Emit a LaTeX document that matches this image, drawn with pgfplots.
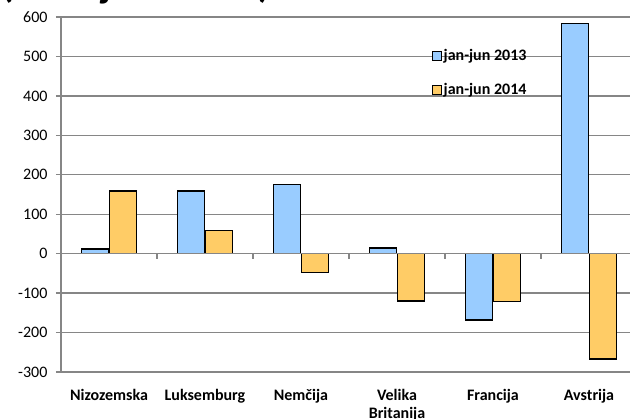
\documentclass[border=0pt]{standalone}
\usepackage{fontspec}
\setmainfont{Carlito}
\usepackage{pgfplots}
\pgfplotsset{compat=1.18}
\definecolor{cblue}{RGB}{153,204,255}
\definecolor{corange}{RGB}{255,204,102}
\definecolor{gridgray}{RGB}{134,134,134}
\begin{document}
\begin{tikzpicture}
\begin{axis}[
  at={(61pt,47pt)}, anchor=south west,
  scale only axis, width=576pt, height=355pt,
  xmin=-0.5, xmax=5.5, ymin=-300, ymax=600,
  ybar=1pt, bar width=27pt,
  axis y line*=left, axis x line*=bottom,
  x axis line style={draw=none},
  y axis line style={gridgray, line width=1.3pt},
  xtick={0,...,5},
  xticklabels={Nizozemska,Luksemburg,Nemčija,{Velika\\Britanija},Francija,Avstrija},
  xticklabel style={font=\bfseries\fontsize{16}{18.5}\selectfont, align=center, anchor=north, inner sep=0pt, yshift=-12pt},
  x tick style={draw=none},
  ytick={-300,-200,...,600}, ytick pos=left,
  ymajorgrids, grid style={gridgray, line width=1.3pt},
  y tick style={gridgray, line width=1.3pt},
  major tick length=5pt, tick align=outside,
  yticklabel style={font=\fontsize{16}{19}\selectfont, xshift=-5pt},
  /pgf/number format/assume math mode=true,
  legend style={at={(0.638,0.92)}, anchor=north west, draw=none, fill=none,
    font=\bfseries\fontsize{16}{19}\selectfont, row sep=17pt},
  legend cell align=left,
  legend image code/.code={\draw[#1, line width=1pt] (0pt,-4.5pt) rectangle (9pt,4.5pt);},
]
\addplot[fill=cblue, draw=black, line width=1.3pt] coordinates {(0,12) (1,159) (2,175) (3,14) (4,-168) (5,583)};
\addplot[fill=corange, draw=black, line width=1.3pt] coordinates {(0,159) (1,59) (2,-47) (3,-120) (4,-121) (5,-267)};
\legend{jan-jun 2013, jan-jun 2014}
\draw[gridgray, line width=1.3pt] (axis cs:-0.5,0) -- (axis cs:5.5,0);
\pgfplotsinvokeforeach{0.5,1.5,2.5,3.5,4.5}{\draw[gridgray, line width=1.3pt] (axis cs:#1,0) -- (axis cs:#1,-13);}
\end{axis}
\node[anchor=base west, font=\bfseries\fontsize{39}{43}\selectfont, inner sep=0pt] at (1pt,421pt) {(v milijonih EUR)};
\pgfresetboundingbox
\path[use as bounding box] (0,0) rectangle (630pt,419pt);
\end{tikzpicture}
\end{document}
